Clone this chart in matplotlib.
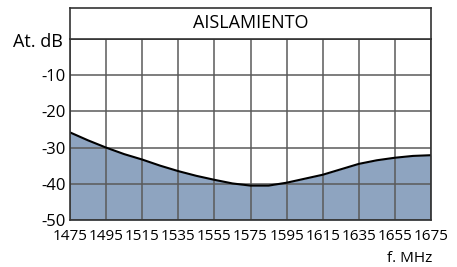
import matplotlib
matplotlib.use("Agg")
import matplotlib.pyplot as plt
import numpy as np

freq = [1475, 1485, 1495, 1505, 1515, 1525, 1535, 1545, 1555, 1565, 1575, 1585, 1595, 1605, 1615, 1625, 1635, 1645, 1655, 1665, 1675]
atten = [-25.8, -28.0, -30.0, -31.8, -33.3, -35.0, -36.5, -37.8, -38.9, -39.9, -40.5, -40.5, -39.7, -38.6, -37.5, -36.0, -34.5, -33.5, -32.8, -32.3, -32.1]
xticks = [1475, 1495, 1515, 1535, 1555, 1575, 1595, 1615, 1635, 1655, 1675]
yticks = [-50, -40, -30, -20, -10]
title = "AISLAMIENTO"

fill_color = "#8ea4c0"
grid_color = "#5a5a5a"
font = ["Open Sans", "DejaVu Sans"]

fig = plt.figure(figsize=(4.57, 2.67), dpi=100)
L, R = 70/457, 431/457
B, T = 1 - 220/267, 1 - 39/267
TT = 1 - 8/267
ax = fig.add_axes([L, B, R - L, T - B])
ax.set_xlim(1475, 1675)
ax.set_ylim(-50, 0)

ax.fill_between(freq, atten, -50, color=fill_color, zorder=1, linewidth=0)
ax.plot(freq, atten, color="black", lw=1.5, zorder=3)
ax.set_xticks(xticks)
ax.set_xticklabels([str(v) for v in xticks], family=font, fontsize=11)
ax.set_yticks(yticks)
ax.set_yticklabels([str(v) for v in yticks], family=font, fontsize=12)
ax.grid(True, color=grid_color, lw=1.1, zorder=2)
ax.set_axisbelow(False)
ax.tick_params(axis="x", length=0, pad=6.5)
ax.tick_params(axis="y", length=0, pad=3)
for s in ax.spines.values():
    s.set_color("#333333")
    s.set_linewidth(1.2)
    s.set_zorder(4)

ax.text(-0.02, 0.985, "At. dB", transform=ax.transAxes, ha="right", va="center", fontsize=13, family=font)
ax.text(1.003, -0.21, "f. MHz", transform=ax.transAxes, ha="right", va="center", fontsize=11, family=font)

tax = fig.add_axes([L, T, R - L, TT - T])
tax.set_xticks([])
tax.set_yticks([])
for s in tax.spines.values():
    s.set_color("#333333")
    s.set_linewidth(1.2)
tax.text(0.5, 0.5, title, transform=tax.transAxes, ha="center", va="center", fontsize=13, family=font)

fig.savefig("out.png", dpi=100)
